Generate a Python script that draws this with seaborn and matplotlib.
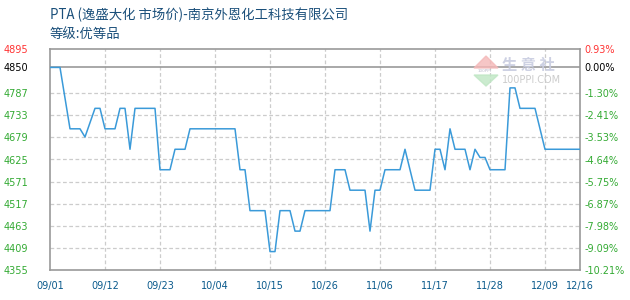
import matplotlib
matplotlib.use("Agg")
import matplotlib.pyplot as plt
import seaborn as sns
import pandas as pd
from matplotlib.patches import Polygon

# ---- data ----
dates = ["09-01", "09-03", "09-05", "09-07", "09-08", "09-10", "09-11", "09-12",
         "09-14", "09-15", "09-16", "09-17", "09-18", "09-22", "09-23", "09-25",
         "09-26", "09-28", "09-29", "10-08", "10-09", "10-10", "10-11", "10-14",
         "10-15", "10-16", "10-17", "10-19", "10-20", "10-21", "10-22", "10-27",
         "10-28", "10-30", "10-31", "11-03", "11-04", "11-05", "11-06", "11-07",
         "11-10", "11-11", "11-13", "11-16", "11-17", "11-18", "11-19", "11-20",
         "11-21", "11-23", "11-24", "11-25", "11-26", "11-27", "11-28", "12-01",
         "12-02", "12-03", "12-04", "12-07", "12-09", "12-16"]
prices = [4850, 4850, 4700, 4700, 4680, 4750, 4750, 4700,
          4700, 4750, 4750, 4650, 4750, 4750, 4600, 4600,
          4650, 4650, 4700, 4700, 4600, 4600, 4500, 4500,
          4400, 4400, 4500, 4500, 4450, 4450, 4500, 4500,
          4600, 4600, 4550, 4550, 4450, 4550, 4550, 4600,
          4600, 4650, 4550, 4550, 4650, 4650, 4600, 4700,
          4650, 4650, 4600, 4650, 4630, 4630, 4600, 4600,
          4800, 4800, 4750, 4750, 4650, 4650]

xtick_dates = ["09-01", "09-12", "09-23", "10-04", "10-15", "10-26",
               "11-06", "11-17", "11-28", "12-09", "12-16"]
ytick_values = [4355, 4409, 4463, 4517, 4571, 4625, 4679, 4733, 4787, 4850, 4895]
ytick_pct = ["-10.21%", "-9.09%", "-7.98%", "-6.87%", "-5.75%", "-4.64%",
             "-3.53%", "-2.41%", "-1.30%", "0.00%", "0.93%"]
base_price = 4850

title_line1 = "PTA (逸盛大化 市场价)-南京外恩化工科技有限公司"
title_line2 = "等级:优等品"

# ---- build frame ----
year = "2021-"
start = pd.to_datetime(year + dates[0])
df = pd.DataFrame({
    "day": [(pd.to_datetime(year + d) - start).days for d in dates],
    "price": prices,
})
xt = [(pd.to_datetime(year + d) - start).days for d in xtick_dates]
xt_labels = [d.replace("-", "/") for d in xtick_dates]

sns.set_theme(style="white")
plt.rcParams["font.family"] = ["DejaVu Sans", "Noto Sans CJK SC"]

fig = plt.figure(figsize=(6.3, 3.0), dpi=100)
ax = fig.add_axes([50 / 630, 30 / 300, 530 / 630, 221 / 300])

sns.lineplot(data=df, x="day", y="price", ax=ax, color="#3a9ad9",
             linewidth=1.1, estimator=None, sort=False, zorder=3)

ax.set_xlim(xt[0], xt[-1])
ax.set_ylim(ytick_values[0], ytick_values[-1])
ax.set_xlabel("")
ax.set_ylabel("")

# grid
for v in ytick_values[1:-1]:
    if v == base_price:
        ax.axhline(v, color="#999999", lw=1.2, zorder=2)
    else:
        ax.axhline(v, color="#cccccc", lw=0.9, ls=(0, (3, 2)), zorder=1)
for v in xt[1:-1]:
    ax.axvline(v, color="#cccccc", lw=0.9, ls=(0, (3, 2)), zorder=1)

for s in ax.spines.values():
    s.set_color("#999999")
    s.set_linewidth(1.2)

ax.set_xticks(xt)
ax.set_xticklabels(xt_labels, color="#0a5a8c", fontsize=7)
ax.set_yticks(ytick_values)
ax.set_yticklabels([str(v) for v in ytick_values], fontsize=7)
ax.tick_params(axis="both", length=0)
ax.tick_params(axis="x", pad=8)
ax.tick_params(axis="y", pad=15.5)

def tick_color(v):
    if v > base_price:
        return "#ff3333"
    if v == base_price:
        return "#000000"
    return "#33aa33"

for lab, v in zip(ax.get_yticklabels(), ytick_values):
    lab.set_color(tick_color(v))

ax2 = ax.twinx()
ax2.set_ylim(ax.get_ylim())
ax2.set_yticks(ytick_values)
ax2.set_yticklabels(ytick_pct, fontsize=7)
ax2.tick_params(axis="y", length=0, pad=3)
ax2.grid(False)
for s in ax2.spines.values():
    s.set_visible(False)
for lab, v in zip(ax2.get_yticklabels(), ytick_values):
    lab.set_color(tick_color(v))

# titles
cjk = ["Noto Sans CJK SC", "DejaVu Sans"]
fig.text(50 / 630, 1 - 15 / 300, title_line1, fontsize=9.6, color="#1a4f7a",
         family=cjk, va="center", ha="left")
fig.text(50 / 630, 1 - 34 / 300, title_line2, fontsize=9.6, color="#1a4f7a",
         family=cjk, va="center", ha="left")

# watermark
fig.patches.append(Polygon([[474 / 630, 1 - 68 / 300], [486 / 630, 1 - 56 / 300],
                            [498 / 630, 1 - 68 / 300]], closed=True,
                           transform=fig.transFigure, color="#f4b8b8", alpha=0.8, zorder=5))
fig.patches.append(Polygon([[474 / 630, 1 - 75 / 300], [486 / 630, 1 - 86 / 300],
                            [498 / 630, 1 - 75 / 300]], closed=True,
                           transform=fig.transFigure, color="#bfe6c4", alpha=0.8, zorder=5))
fig.text(478 / 630, 1 - 71 / 300, "100PPI", fontsize=3, color="#bbbbcc",
         family=["DejaVu Sans"], va="center")
fig.text(502 / 630, 1 - 65 / 300, "生 意 社", fontsize=11, color="#c8cce0",
         family=cjk, va="center", ha="left", alpha=0.9, weight="bold")
fig.text(502 / 630, 1 - 80 / 300, "100PPI.COM", fontsize=7, color="#cccccc",
         family=["DejaVu Sans"], va="center", ha="left")

fig.savefig("out.png", dpi=100)
